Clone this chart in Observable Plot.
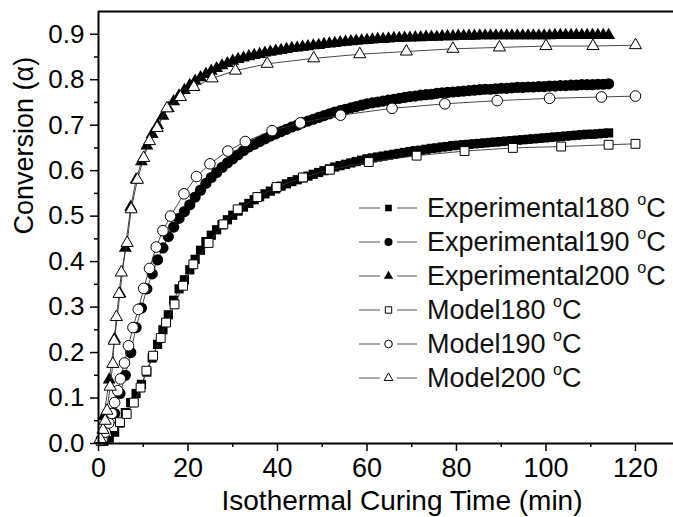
<!DOCTYPE html>
<html><head><meta charset="utf-8">
<script src="https://cdn.jsdelivr.net/npm/d3@7"></script>
<script src="https://cdn.jsdelivr.net/npm/@observablehq/plot@0.6"></script>
<style>
body{margin:0;background:#fff;}
#wrap{position:relative;width:673px;height:517px;font-family:"Liberation Sans",Arial,sans-serif;background:#fff;}
#legend{position:absolute;left:356px;top:191px;color:#111;}
.row{display:flex;align-items:center;height:34px;font-size:27px;white-space:nowrap;}
.row svg{width:71px;height:34px;flex:none;}
.row sup{font-size:60%;position:relative;top:-2px;}
</style></head><body>
<div id="wrap"><div id="chart"></div><div id="legend"></div></div>
<script>
// Experimental sampling times (min)
const expT = [1.2,2.4,3.6,4.8,6.0,7.2,8.4,9.6,10.8,12.0,13.2,14.4,15.6,16.8,18.0,19.2,20.4,21.6,22.8,24.0,25.2,26.4,27.6,28.8,30.0,31.2,32.4,33.6,34.8,36.0,37.2,38.4,39.6,40.8,42.0,43.2,44.4,45.6,46.8,48.0,49.2,50.4,51.6,52.8,54.0,55.2,56.4,57.6,58.8,60.0,61.2,62.4,63.6,64.8,66.0,67.2,68.4,69.6,70.8,72.0,73.2,74.4,75.6,76.8,78.0,79.2,80.4,81.6,82.8,84.0,85.2,86.4,87.6,88.8,90.0,91.2,92.4,93.6,94.8,96.0,97.2,98.4,99.6,100.8,102.0,103.2,104.4,105.6,106.8,108.0,109.2,110.4,111.6,112.8,114.0];
const exp180 = [0.005,0.012,0.025,0.045,0.068,0.09,0.11,0.13,0.157,0.188,0.218,0.25,0.283,0.315,0.34,0.36,0.382,0.405,0.425,0.444,0.458,0.47,0.481,0.492,0.502,0.511,0.52,0.528,0.536,0.543,0.549,0.555,0.56,0.566,0.571,0.576,0.58,0.584,0.588,0.592,0.596,0.600,0.604,0.608,0.611,0.614,0.617,0.620,0.623,0.626,0.628,0.630,0.632,0.634,0.636,0.638,0.640,0.642,0.644,0.645,0.647,0.649,0.650,0.652,0.653,0.655,0.656,0.657,0.658,0.659,0.660,0.661,0.662,0.663,0.664,0.665,0.666,0.667,0.668,0.669,0.670,0.671,0.672,0.673,0.674,0.675,0.676,0.677,0.678,0.679,0.680,0.680,0.681,0.682,0.683];
const exp190 = [0.01,0.035,0.066,0.11,0.15,0.2,0.255,0.298,0.34,0.373,0.404,0.43,0.455,0.476,0.495,0.51,0.525,0.542,0.557,0.572,0.585,0.596,0.607,0.617,0.626,0.635,0.644,0.652,0.658,0.664,0.67,0.676,0.681,0.686,0.691,0.696,0.70,0.705,0.709,0.713,0.717,0.721,0.725,0.729,0.732,0.735,0.738,0.741,0.744,0.747,0.749,0.751,0.753,0.755,0.757,0.759,0.761,0.763,0.764,0.766,0.767,0.768,0.770,0.771,0.772,0.773,0.774,0.775,0.776,0.777,0.778,0.779,0.779,0.780,0.781,0.781,0.782,0.783,0.783,0.784,0.784,0.785,0.785,0.786,0.786,0.787,0.787,0.788,0.788,0.789,0.789,0.789,0.790,0.790,0.791];
const exp200 = [0.06,0.14,0.23,0.33,0.43,0.52,0.58,0.62,0.655,0.68,0.70,0.72,0.737,0.752,0.765,0.777,0.788,0.797,0.805,0.812,0.819,0.825,0.831,0.836,0.841,0.845,0.848,0.851,0.854,0.856,0.859,0.861,0.863,0.865,0.867,0.869,0.870,0.872,0.873,0.875,0.876,0.878,0.879,0.880,0.882,0.883,0.884,0.885,0.886,0.887,0.888,0.889,0.889,0.890,0.891,0.891,0.892,0.892,0.893,0.893,0.894,0.894,0.894,0.895,0.895,0.895,0.896,0.896,0.896,0.896,0.897,0.897,0.897,0.897,0.897,0.897,0.897,0.897,0.897,0.897,0.897,0.897,0.897,0.897,0.898,0.898,0.898,0.898,0.898,0.898,0.898,0.898,0.898,0.898,0.898];

// Model curves
const model180T = [0.5,1.2,1.9,3.3,4.8,6.3,7.9,9.4,10.7,12.2,13.9,15.1,17.0,18.9,21.2,24.6,27.9,31.1,35.5,39.8,45.7,51.7,60.4,71.1,81.8,92.6,103.4,114,120];
const model180V = [0.005,0.014,0.025,0.036,0.047,0.065,0.09,0.123,0.16,0.193,0.232,0.266,0.306,0.347,0.394,0.441,0.482,0.515,0.542,0.564,0.585,0.602,0.619,0.633,0.643,0.65,0.653,0.657,0.659];
const model190T = [0.8,1.5,2.3,3.0,3.6,4.3,4.9,5.8,6.7,7.7,8.9,10.1,11.4,12.9,14.4,16.1,19.1,21.9,24.9,28.9,32.8,38.8,45.1,54.1,65.6,77.4,89.1,100.8,112.4,120];
const model190V = [0.008,0.025,0.045,0.066,0.09,0.116,0.142,0.177,0.215,0.255,0.295,0.341,0.385,0.432,0.468,0.5,0.549,0.587,0.615,0.643,0.664,0.688,0.705,0.722,0.737,0.747,0.754,0.759,0.762,0.764];
const model200T = [0.4,1.0,1.5,1.9,2.6,3.2,3.5,4.0,4.6,5.1,6.4,7.3,8.7,10.1,11.4,13.1,15.3,18.3,21.3,25.4,30.6,37.7,48.1,58.4,68.8,79.2,89.6,100,110.5,120];
const model200V = [0.01,0.03,0.05,0.072,0.125,0.175,0.226,0.278,0.329,0.376,0.441,0.515,0.58,0.628,0.665,0.694,0.737,0.762,0.784,0.803,0.82,0.835,0.847,0.856,0.862,0.868,0.871,0.874,0.874,0.876];

const seriesNames = ["Experimental180","Experimental190","Experimental200","Model180","Model190","Model200"];
const xTicks = [0,20,40,60,80,100,120];
const xMinor = [10,30,50,70,90,110];
const yTicks = [0,0.1,0.2,0.3,0.4,0.5,0.6,0.7,0.8,0.9];
const yMinor = [0.05,0.15,0.25,0.35,0.45,0.55,0.65,0.75,0.85];
const xDomain = [0,128.5];
const yDomain = [0,0.95];
const xLabel = "Isothermal Curing Time (min)";
const yLabel = "Conversion (\u03B1)";

const styles = [
  {symbol:"square", filled:true, r:5.2},
  {symbol:"circle", filled:true, r:5.6},
  {symbol:"triangle", filled:true, r:4.8},
  {symbol:"square", filled:false, r:5.0},
  {symbol:"circle", filled:false, r:5.3},
  {symbol:"triangle", filled:false, r:4.5}
];
const sources = [[expT,exp180],[expT,exp190],[expT,exp200],[model180T,model180V],[model190T,model190V],[model200T,model200V]];
const tables = sources.map(([t,v],i)=>t.map((d,j)=>({series:seriesNames[i], t:d, v:v[j]})));

const marks = [];
tables.forEach((rows,i)=>{
  const s = styles[i];
  marks.push(Plot.line(rows,{x:"t",y:"v",stroke:"#333",strokeWidth:0.9}));
  marks.push(Plot.dot(rows,{x:"t",y:"v",symbol:s.symbol,r:s.r,fill:s.filled?"#000":"#fff",stroke:"#000",strokeWidth:s.filled?0:1}));
});

const chart = Plot.plot({
  width:673, height:517,
  marginLeft:98, marginRight:0, marginTop:11, marginBottom:74,
  style:{fontFamily:'"Liberation Sans", Arial, sans-serif', fontSize:"26px", background:"#fff", color:"#000", overflow:"visible"},
  x:{domain:xDomain},
  y:{domain:yDomain},
  marks:[
    ...marks,
    Plot.ruleX([xDomain[0]],{stroke:"#000",strokeWidth:2}),
    Plot.ruleY([yDomain[0]],{stroke:"#000",strokeWidth:2}),
    Plot.ruleY([yDomain[1]],{stroke:"#000",strokeWidth:2}),
    Plot.axisY(yTicks,{tickSize:8,tickPadding:6,tickFormat:d=>d.toFixed(1),fontSize:26,strokeWidth:1.5,label:null}),
    Plot.axisY(yMinor,{tickSize:4,tickFormat:()=>"",strokeWidth:1.5,label:null}),
    Plot.axisX(xTicks,{tickSize:8,tickPadding:6,tickFormat:d=>String(d),fontSize:27,strokeWidth:1.5,label:null}),
    Plot.axisX(xMinor,{tickSize:4,tickFormat:()=>"",strokeWidth:1.5,label:null}),
    Plot.text([xLabel],{text:d=>d,frameAnchor:"bottom",dy:66,dx:16,fontSize:28,fill:"#000"}),
    Plot.text([yLabel],{text:d=>d,frameAnchor:"left",rotate:-90,dx:-74,dy:7,fontSize:27,fill:"#000"})
  ]
});
document.getElementById("chart").appendChild(chart);

// Legend (inside plot area, top-right)
const legend = document.getElementById("legend");
seriesNames.forEach((name,i)=>{
  const s = styles[i];
  const row = document.createElement("div");
  row.className = "row";
  const path = d3.symbol(s.symbol==="square"?d3.symbolSquare:s.symbol==="circle"?d3.symbolCircle:d3.symbolTriangle, Math.PI*(s.r*0.72)**2)();
  row.innerHTML = `<svg viewBox="0 0 71 34"><line x1="3" x2="24" y1="17" y2="17" stroke="#555" stroke-width="1"/><line x1="41" x2="61" y1="17" y2="17" stroke="#555" stroke-width="1"/><path transform="translate(32.5,17)" d="${path}" fill="${s.filled?"#000":"#fff"}" stroke="#000" stroke-width="${s.filled?0:1}"/></svg><span>${name} <sup>o</sup>C</span>`;
  legend.appendChild(row);
});
</script>
</body></html>
